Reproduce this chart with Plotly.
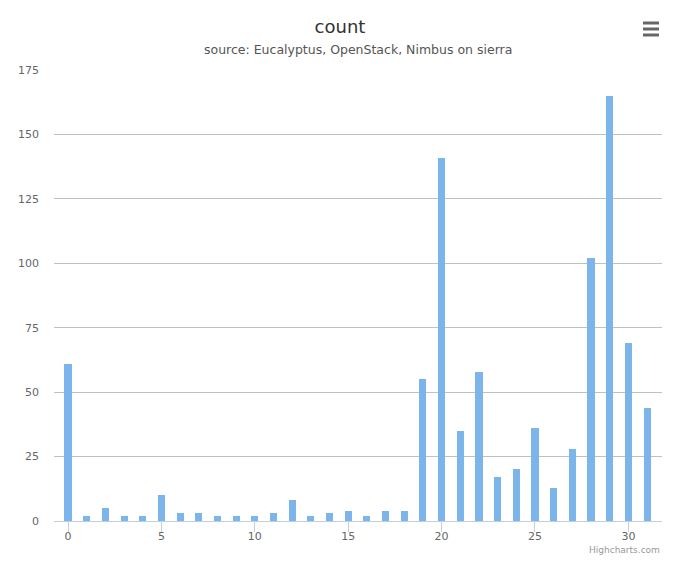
import plotly.graph_objects as go

categories = list(range(32))
counts = [61, 2, 5, 2, 2, 10, 3, 3, 2, 2, 2, 3, 8, 2, 3, 4, 2, 4, 4, 55,
          141, 35, 58, 17, 20, 36, 13, 28, 102, 165, 69, 44]
y_ticks = [0, 25, 50, 75, 100, 125, 150, 175]
x_ticks = [0, 5, 10, 15, 20, 25, 30]

font = "DejaVu Sans, Verdana, sans-serif"

fig = go.Figure(go.Bar(
    x=categories, y=counts, marker=dict(color="#7cb5ec", line=dict(width=0)),
    width=0.38, hovertemplate="%{x}: %{y}<extra></extra>"))

fig.update_layout(
    width=680, height=566,
    margin=dict(l=54, r=18, t=70, b=45),
    paper_bgcolor="white", plot_bgcolor="white",
    font=dict(family=font, color="#666666", size=11),
    showlegend=False,
    title=dict(text="count", x=0.5, xanchor="center", y=1 - 27 / 566, yanchor="middle",
               font=dict(size=18, color="#333333", family=font)),
    bargap=0,
    annotations=[
        dict(text="source: Eucalyptus, OpenStack, Nimbus on sierra", xref="paper", yref="paper",
             x=0.5, y=1 + (70 - 50) / 451, xanchor="center", yanchor="middle", showarrow=False,
             font=dict(size=12.5, color="#555555", family=font)),
        dict(text="Highcharts.com", xref="paper", yref="paper",
             x=1, y=-(550 - 521) / 451, xanchor="right", yanchor="middle",
             showarrow=False, font=dict(size=9, color="#999999", family=font)),
    ],
)

fig.update_xaxes(range=[-0.75, 31.8], tickmode="array", tickvals=x_ticks,
                 ticktext=[str(v) for v in x_ticks], showgrid=False, zeroline=False,
                 showline=True, linecolor="#C0D0E0", linewidth=1,
                 ticks="outside", ticklen=10, tickcolor="#C0D0E0",
                 ticklabelstandoff=-5,
                 tickfont=dict(size=11, color="#666666"))
fig.update_yaxes(range=[0, 175], tickmode="array", tickvals=y_ticks,
                 ticktext=[str(v) for v in y_ticks], showgrid=True, gridcolor="#C0C0C0",
                 gridwidth=1, zeroline=False, showline=False, ticks="",
                 ticklabelstandoff=14, tickfont=dict(size=11, color="#666666"))

# hamburger menu icon
for dy in (23, 29, 35):
    fig.add_shape(type="line", xref="paper", yref="paper",
                  x0=(643 - 54) / 608, x1=(659 - 54) / 608,
                  y0=(521 - dy) / 451, y1=(521 - dy) / 451,
                  line=dict(color="#666666", width=3))

fig.write_html("out.html", config={"displayModeBar": False},
               post_script="document.body.style.margin='0';document.body.style.padding='0';")
